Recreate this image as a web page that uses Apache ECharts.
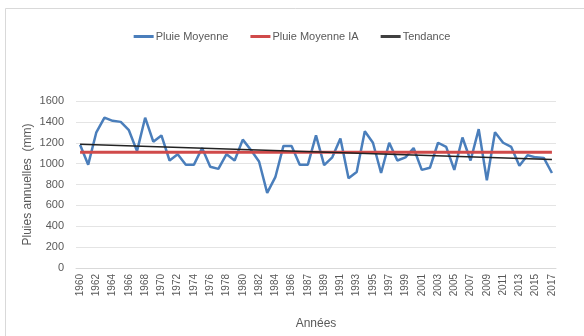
<!DOCTYPE html>
<html><head><meta charset="utf-8">
<script src="https://cdn.jsdelivr.net/npm/echarts@6/dist/echarts.min.js"></script>
<style>html,body{margin:0;padding:0;background:#fff}#c{width:584px;height:336px}</style>
</head><body><div id="c"></div>
<script>
var years = ['1960','1961','1962','1963','1964','1965','1966','1967','1968','1969','1970','1971','1972','1973','1974','1975','1976','1977','1978','1979','1980','1981','1982','1983','1984','1985','1986','1987','1987','1988','1989','1990','1991','1992','1993','1994','1995','1996','1997','1998','1999','2000','2001','2002','2003','2004','2005','2006','2007','2008','2009','2010','2011','2012','2013','2014','2015','2016','2017'];
var pluieMoyenne = [1180,990,1300,1440,1410,1400,1320,1120,1440,1210,1270,1030,1090,990,990,1150,970,950,1090,1030,1230,1130,1020,720,870,1170,1170,990,990,1270,985,1060,1240,860,920,1310,1200,910,1200,1030,1060,1150,940,960,1200,1160,940,1250,1030,1330,840,1300,1200,1160,980,1080,1060,1055,910];
var pluieMoyenneIA = [1108,1108];
var tendance = [1185,1040];
var yTicks = {min:0,max:1600,interval:200};

var last = years.length-1;
var chart = echarts.init(document.getElementById('c'));
var font = 'Liberation Sans, sans-serif';
chart.setOption({
  animation:false,
  backgroundColor:'#fff',
  textStyle:{fontFamily:font},
  graphic:[{type:'rect',shape:{x:5.5,y:8.5,width:700,height:500},style:{fill:null,stroke:'#d9d9d9',lineWidth:1},silent:true}],
  legend:{top:26,left:'center',itemWidth:20,itemHeight:3,itemGap:22,icon:'rect',
    textStyle:{fontSize:11,color:'#595959',fontFamily:font,padding:[0,0,0,-3]},
    data:['Pluie Moyenne','Pluie Moyenne IA','Tendance']},
  grid:{left:76,right:28,top:101,bottom:68,containLabel:false},
  xAxis:{type:'category',data:years,boundaryGap:true,
    name:'Années',nameLocation:'middle',nameGap:50,nameMoveOverlap:false,
    nameTextStyle:{fontSize:12,color:'#595959',fontFamily:font},
    axisLine:{lineStyle:{color:'#d9d9d9'}},axisTick:{show:false},
    axisLabel:{interval:1,rotate:90,fontSize:10,color:'#595959',margin:6,fontFamily:font}},
  yAxis:{type:'value',min:yTicks.min,max:yTicks.max,interval:yTicks.interval,
    name:'Pluies annuelles  (mm)',nameLocation:'middle',nameGap:42,nameMoveOverlap:false,
    nameTextStyle:{fontSize:12,color:'#595959',fontFamily:font},
    axisLine:{show:false},axisTick:{show:false},
    axisLabel:{fontSize:11,color:'#595959',margin:12,fontFamily:font,formatter:function(v){return String(v);}},
    splitLine:{lineStyle:{color:'#e4e4e4'}}},
  series:[
    {name:'Pluie Moyenne',type:'line',data:pluieMoyenne,symbol:'none',
      lineStyle:{color:'#4a7ebb',width:2.5},itemStyle:{color:'#4a7ebb'},z:2},
    {name:'Pluie Moyenne IA',type:'line',data:[[0,pluieMoyenneIA[0]],[last,pluieMoyenneIA[1]]],symbol:'none',
      lineStyle:{color:'#d04a4a',width:3},itemStyle:{color:'#d04a4a'},z:3},
    {name:'Tendance',type:'line',data:[[0,tendance[0]],[last,tendance[1]]],symbol:'none',
      lineStyle:{color:'#222',width:1.5},itemStyle:{color:'#404040'},z:4}
  ]
});
</script></body></html>
